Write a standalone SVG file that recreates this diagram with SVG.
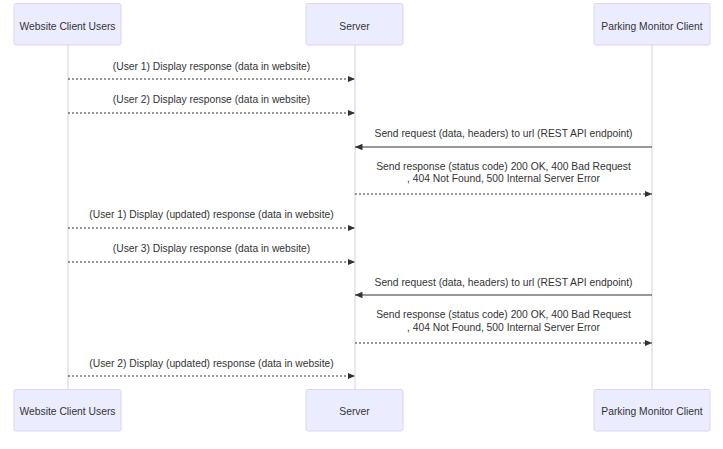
<svg xmlns="http://www.w3.org/2000/svg" width="723" height="449" viewBox="0 0 723 449">
  <defs>
    <style>
      .actor rect { fill: #ECECFF; stroke: #DDD4F6; stroke-width: 1; }
      .actor text { font-family: "Liberation Sans", Arial, sans-serif; font-size: 10.3px; fill: #333; text-anchor: middle; }
      .lifeline { stroke: #DDD4F6; stroke-width: 1.2; }
      .msg { stroke: #333; stroke-width: 1; fill: none; }
      .dotted { stroke-dasharray: 2 2; }
      .label { font-family: "Liberation Sans", Arial, sans-serif; font-size: 10.3px; fill: #333; text-anchor: middle; }
    </style>
    <marker id="arrowhead" viewBox="0 0 10 10" refX="10" refY="5" markerUnits="userSpaceOnUse" markerWidth="7.5" markerHeight="6.5" orient="auto" preserveAspectRatio="none">
      <path d="M0,0 L10,5 L0,10 z" fill="#333"/>
    </marker>
  </defs>
  <rect width="723" height="449" fill="#fff"/>

  <!-- lifelines -->
  <g id="lifelines">
    <line class="lifeline" x1="68" y1="45" x2="68" y2="389"/>
    <line class="lifeline" x1="355" y1="45" x2="355" y2="389"/>
    <line class="lifeline" x1="652" y1="45" x2="652" y2="389"/>
  </g>

  <!-- participants, top -->
  <g id="users-top" class="actor">
    <rect x="14" y="3.5" width="107" height="41.5" rx="2"/>
    <text x="67.5" y="29.5">Website Client Users</text>
  </g>
  <g id="server-top" class="actor">
    <rect x="306" y="3.5" width="97" height="41.5" rx="2"/>
    <text x="354.5" y="29.5">Server</text>
  </g>
  <g id="parking-top" class="actor">
    <rect x="594" y="3.5" width="116" height="41.5" rx="2"/>
    <text x="652" y="29.5">Parking Monitor Client</text>
  </g>

  <!-- participants, bottom -->
  <g id="users-bottom" class="actor">
    <rect x="14" y="389.5" width="107" height="41.5" rx="2"/>
    <text x="67.5" y="415">Website Client Users</text>
  </g>
  <g id="server-bottom" class="actor">
    <rect x="306" y="389.5" width="97" height="41.5" rx="2"/>
    <text x="354.5" y="415">Server</text>
  </g>
  <g id="parking-bottom" class="actor">
    <rect x="594" y="389.5" width="116" height="41.5" rx="2"/>
    <text x="652" y="415">Parking Monitor Client</text>
  </g>

  <!-- messages -->
  <g id="messages">
    <text class="label" x="211.5" y="69.5">(User 1) Display response (data in website)</text>
    <line class="msg dotted" x1="68" y1="79" x2="355" y2="79" marker-end="url(#arrowhead)"/>

    <text class="label" x="211.5" y="103">(User 2) Display response (data in website)</text>
    <line class="msg dotted" x1="68" y1="113" x2="355" y2="113" marker-end="url(#arrowhead)"/>

    <text class="label" x="503.5" y="136.5">Send request (data, headers) to url (REST API endpoint)</text>
    <line class="msg" x1="652" y1="147" x2="355" y2="147" marker-end="url(#arrowhead)"/>

    <text class="label" x="503.5" y="170">Send response (status code) 200 OK, 400 Bad Request</text>
    <text class="label" x="503.5" y="182">, 404 Not Found, 500 Internal Server Error</text>
    <line class="msg dotted" x1="355" y1="194" x2="652" y2="194" marker-end="url(#arrowhead)"/>

    <text class="label" x="211.5" y="217.5">(User 1) Display (updated) response (data in website)</text>
    <line class="msg dotted" x1="68" y1="228" x2="355" y2="228" marker-end="url(#arrowhead)"/>

    <text class="label" x="211.5" y="251.5">(User 3) Display response (data in website)</text>
    <line class="msg dotted" x1="68" y1="262" x2="355" y2="262" marker-end="url(#arrowhead)"/>

    <text class="label" x="503.5" y="285.5">Send request (data, headers) to url (REST API endpoint)</text>
    <line class="msg" x1="652" y1="295" x2="355" y2="295" marker-end="url(#arrowhead)"/>

    <text class="label" x="503.5" y="318">Send response (status code) 200 OK, 400 Bad Request</text>
    <text class="label" x="503.5" y="330.5">, 404 Not Found, 500 Internal Server Error</text>
    <line class="msg dotted" x1="355" y1="343" x2="652" y2="343" marker-end="url(#arrowhead)"/>

    <text class="label" x="211.5" y="366.5">(User 2) Display (updated) response (data in website)</text>
    <line class="msg dotted" x1="68" y1="376" x2="355" y2="376" marker-end="url(#arrowhead)"/>
  </g>
</svg>
